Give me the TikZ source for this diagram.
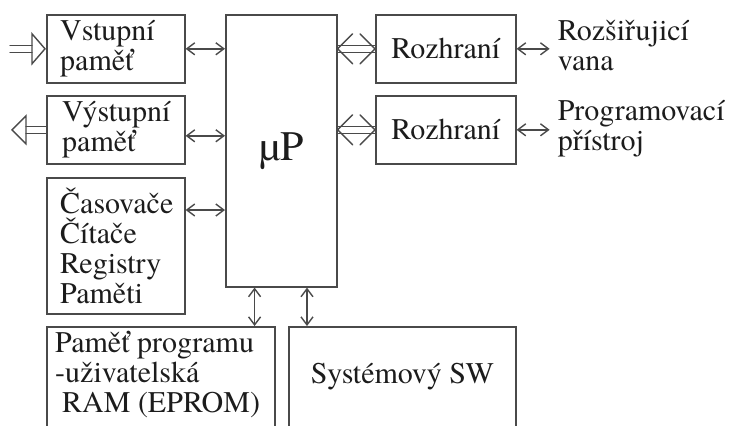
\documentclass[tikz,border=0pt]{standalone}
\usepackage{fontspec}
\setmainfont{texgyretermes}[Extension=.otf, UprightFont=*-regular]
\usetikzlibrary{arrows.meta,calc}
\definecolor{ink}{HTML}{4A4A4A}
\definecolor{txtc}{HTML}{1C1C1C}

% double bus with open chevron heads at both ends
\newcommand\busarrow[2]{%
  \draw[ln] ($(#1)+(0,-3.5)$) -- ($(#2)+(0,-3.5)$)
            ($(#1)+(0,3.5)$) -- ($(#2)+(0,3.5)$);
  \draw[ln] ($(#1)+(15,-15)$) -- (#1) -- ($(#1)+(15,15)$);
  \draw[ln] ($(#2)+(-15,-15)$) -- (#2) -- ($(#2)+(-15,15)$);
}

\begin{document}
\begin{tikzpicture}[x=1pt,y=-1pt,
  box/.style={draw=ink, line width=1.6pt, rectangle, anchor=north west,
    inner sep=0pt, text=txtc, font=\fontsize{30}{30}\selectfont},
  lbl/.style={inner sep=0pt, align=left, text=txtc,
    font=\fontsize{30}{30}\selectfont},
  ln/.style={draw=ink, line width=1.4pt, line join=round, line cap=round},
  bi/.style={ln, {Straight Barb[length=8pt,width=12pt]}-{Straight Barb[length=8pt,width=12pt]}},
]
\path[fill=white, use as bounding box] (0,0) rectangle (732,426);
\clip (0,0) rectangle (732,426);

% blocks
\node[box, minimum width=138, minimum height=68] (vin) at (46,14) {};
\node[box, minimum width=138, minimum height=68] (vout) at (46,95) {};
\node[box, minimum width=138, minimum height=136] (tim) at (46,177) {};
\node[box, minimum width=111, minimum height=272,
      font=\fontsize{42}{42}\selectfont] (mp) at (225,14) {µP};
\node[box, minimum width=140, minimum height=68] (r1) at (375,14) {Rozhraní};
\node[box, minimum width=140, minimum height=68] (r2) at (375,95) {Rozhraní};
\node[box, minimum width=228, minimum height=150] (prog) at (46,326) {};
\node[box, minimum width=227, minimum height=150] (sys) at (288,326) {};

% block texts
\node[lbl, anchor=west] (vintxt) at ([xshift=14]vin.west) {Vstupní\\paměť};
\node[lbl, anchor=west] (vouttxt) at ([xshift=16]vout.west) {Výstupní\\paměť};
\node[lbl, anchor=west] (timtxt) at ([xshift=14]tim.west) {Časovače\\Čítače\\Registry\\Paměti};
\node[lbl, anchor=north west] (progtxt) at ([shift={(9,5)}]prog.north west)
  {Paměť programu\\-uživatelská\\\hspace*{7pt}RAM (EPROM)};
\node[lbl, anchor=base] (systxt) at ([shift={(0,57)}]sys.north) {Systémový SW};

% external devices
\node[lbl, anchor=west] (rt1) at ([shift={(41,-3.5)}]r1.east) {Rozšiřujicí\\vana};
\node[lbl, anchor=west] (rt2) at ([shift={(41,-1)}]r2.east) {Programovací\\přístroj};

% memories and timers to the processor
\coordinate (a2) at ($(vout.east)+(0,6)$);
\coordinate (a3) at ($(tim.north east)+(0,33)$);
\draw[bi] (vin.east) -- (vin.east -| mp.west);
\draw[bi] (a2) -- (a2 -| mp.west);
\draw[bi] (a3) -- (a3 -| mp.west);

% processor buses to the interfaces
\coordinate (b1) at (r1.west -| mp.east);
\coordinate (b2) at (r2.west -| mp.east);
\busarrow{b1}{r1.west}
\busarrow{b2}{r2.west}

% interfaces to external devices
\draw[bi, shorten >=8pt] (r1.east) -- (r1.east -| rt1.west);
\draw[bi, shorten >=8pt] (r2.east) -- (r2.east -| rt2.west);

% processor to program memory and system software
\coordinate (pa) at ($(prog.north east)+(-21,0)$);
\coordinate (sa) at ($(sys.north west)+(19,0)$);
\draw[bi] (pa) -- (pa |- mp.south);
\draw[bi] (sa) -- (sa |- mp.south);

% input into the input memory
\coordinate (inend) at ($(vin.west)+(-36,0)$);
\draw[ln, line join=miter] ($(vin.west)+(-14,-15)$) -- ($(vin.west)+(-1,0)$)
  -- ($(vin.west)+(-14,15)$) -- cycle;
\draw[ln] ($(inend)+(0,-3.5)$) -- ($(vin.west)+(-14,-3.5)$)
          ($(inend)+(0,3.5)$) -- ($(vin.west)+(-14,3.5)$);

% output from the output memory
\coordinate (outtip) at ($(vout.west)+(-34,0)$);
\draw[ln, line join=miter] ($(outtip)+(14,-14)$) -- (outtip)
  -- ($(outtip)+(14,14)$) -- cycle;
\draw[ln] ($(outtip)+(14,-3.5)$) -- ($(vout.west)+(0,-3.5)$)
          ($(outtip)+(14,3.5)$) -- ($(vout.west)+(0,3.5)$);
\end{tikzpicture}
\end{document}
